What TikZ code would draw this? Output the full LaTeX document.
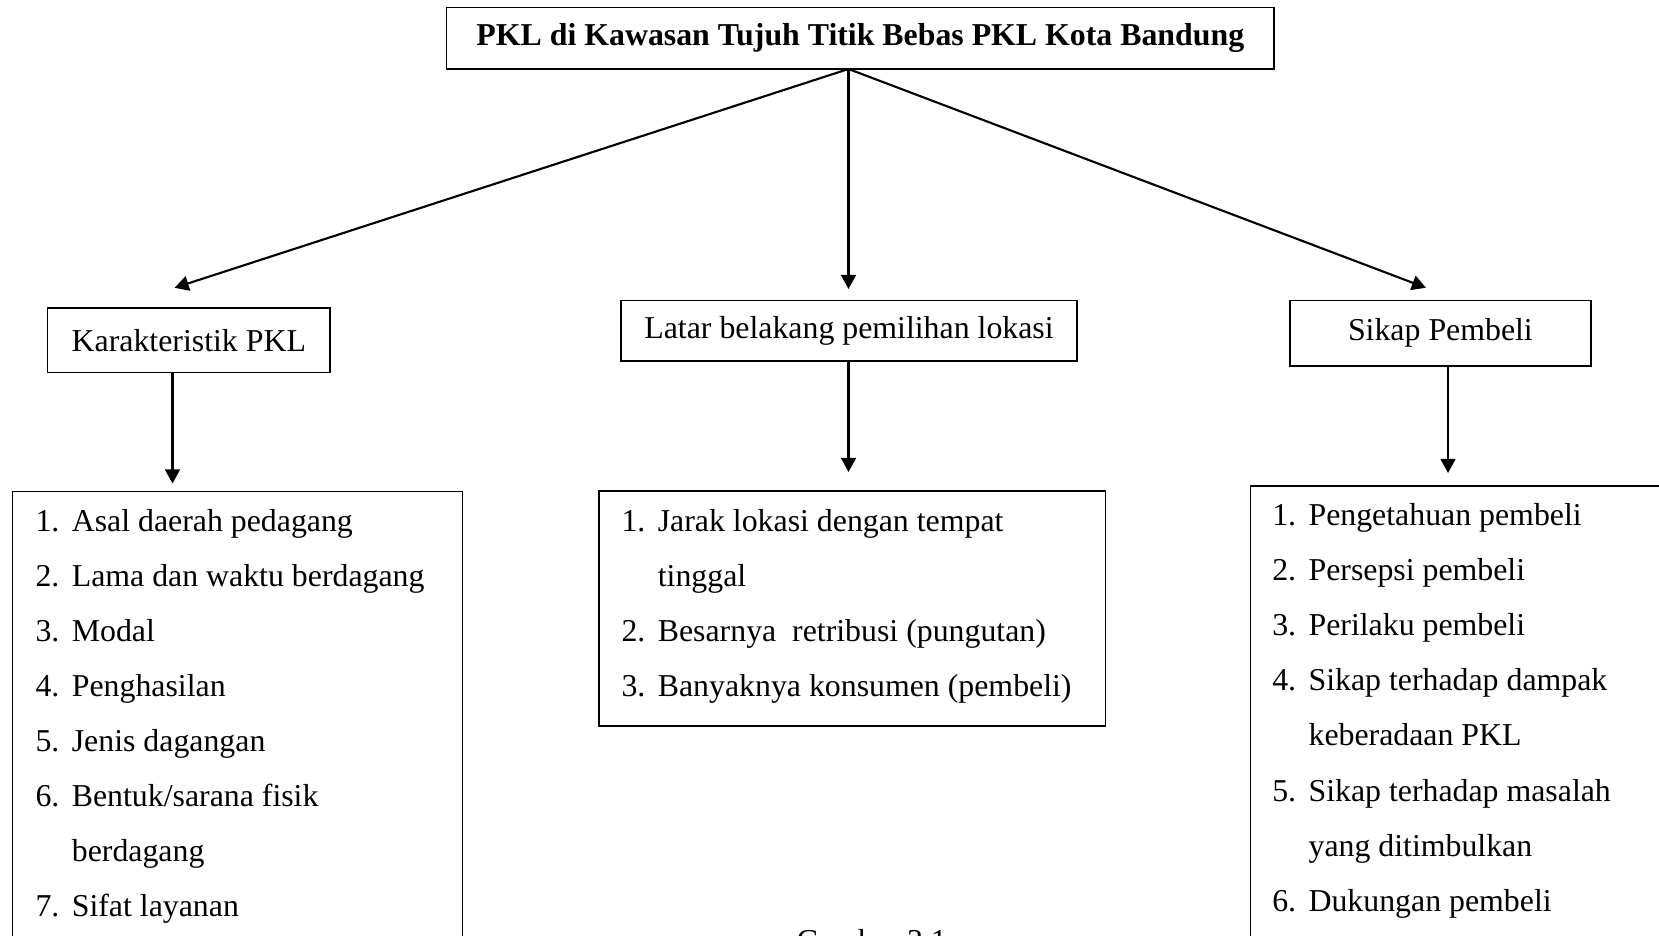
\documentclass[tikz,border=0pt]{standalone}
\usepackage{fontspec}
\setmainfont{Liberation Serif}
\usetikzlibrary{arrows.meta}
\newcommand\numitem[2]{\makebox[13.7pt][l]{#1}#2}
\begin{document}
\begin{tikzpicture}[x=0.377pt,y=-0.377pt,
 box/.style={draw, line width=0.6pt, inner sep=0pt, align=center, font=\fontsize{12}{14}\selectfont},
 item/.style={anchor=base west, inner sep=0pt, font=\fontsize{12}{14}\selectfont},
 arr/.style={line width=0.8pt, -{Triangle[length=5.3pt,width=5.6pt]}}]
\useasboundingbox (0,0) rectangle (1659,936);
% top
\node[box, minimum width=312pt, minimum height=23.1pt, font=\fontsize{12}{14}\selectfont\bfseries] (top) at (860.3,38.1) {PKL di Kawasan Tujuh Titik Bebas PKL Kota Bandung};
\coordinate (src) at (848.5,69);
% level 2
\node[box, minimum width=106.5pt, minimum height=24.3pt] (kar) at (188.8,340.2) {Karakteristik PKL};
\node[box, minimum width=171.9pt, minimum height=22.7pt] (lat) at (849,330.7) {Latar belakang pemilihan lokasi};
\node[box, minimum width=113.6pt, minimum height=24.7pt] (sik) at (1440.4,333.3) {Sikap Pembeli};
% tips
\coordinate (tk) at (174.6,287.8);
\coordinate (tl) at (848.5,289);
\coordinate (ts) at (1426,287.8);
\draw[arr] (src) -- (tk);
\draw[arr] (src) -- (tl);
\draw[arr] (src) -- (ts);
% list boxes
\node[box, minimum width=169.6pt, minimum height=176.6pt] (lk) at (237.6,725.75) {};
\node[box, minimum width=191pt, minimum height=88.5pt] (ll) at (852.3,608.4) {};
\node[box, minimum width=162pt, minimum height=178.7pt] (ls) at (1465.2,723) {};
\coordinate (dk) at (172.5,483.5);
\coordinate (dl) at (848.5,472);
\coordinate (ds) at (1448,473);
\draw[arr] (kar.south -| dk) -- (dk);
\draw[arr] (lat.south -| dl) -- (dl);
\draw[arr] (sik.south -| ds) -- (ds);
% left items
\node[item] (k1) at (35,531.7) {\numitem{1.}{Asal daerah pedagang}};
\node[item] (k2) at (35,586.7) {\numitem{2.}{Lama dan waktu berdagang}};
\node[item] (k3) at (35,641.7) {\numitem{3.}{Modal}};
\node[item] (k4) at (35,696.7) {\numitem{4.}{Penghasilan}};
\node[item] (k5) at (35,751.7) {\numitem{5.}{Jenis dagangan}};
\node[item] (k6) at (35,806.7) {\numitem{6.}{Bentuk/sarana fisik}};
\node[item] (k6b) at (35,861.7) {\numitem{}{berdagang}};
\node[item] (k7) at (35,916.7) {\numitem{7.}{Sifat layanan}};
% middle items
\node[item] (l1) at (621,531.7) {\numitem{1.}{Jarak lokasi dengan tempat}};
\node[item] (l1b) at (621,586.7) {\numitem{}{tinggal}};
\node[item] (l2) at (621,641.7) {\numitem{2.}{Besarnya\ \ retribusi (pungutan)}};
\node[item] (l3) at (621,696.7) {\numitem{3.}{Banyaknya konsumen (pembeli)}};
% right items
\node[item] (s1) at (1271.7,525) {\numitem{1.}{Pengetahuan pembeli}};
\node[item] (s2) at (1271.7,580.2) {\numitem{2.}{Persepsi pembeli}};
\node[item] (s3) at (1271.7,635.4) {\numitem{3.}{Perilaku pembeli}};
\node[item] (s4) at (1271.7,690.6) {\numitem{4.}{Sikap terhadap dampak}};
\node[item] (s4b) at (1271.7,745.8) {\numitem{}{keberadaan PKL}};
\node[item] (s5) at (1271.7,801) {\numitem{5.}{Sikap terhadap masalah}};
\node[item] (s5b) at (1271.7,856.2) {\numitem{}{yang ditimbulkan}};
\node[item] (s6) at (1271.7,911.4) {\numitem{6.}{Dukungan pembeli}};
% caption (cut off at the lower edge, as in the reference)
\node[anchor=base, inner sep=0pt, font=\fontsize{12}{14}\selectfont] (cap) at (871.7,951) {Gambar 3.1};
\end{tikzpicture}
\end{document}
